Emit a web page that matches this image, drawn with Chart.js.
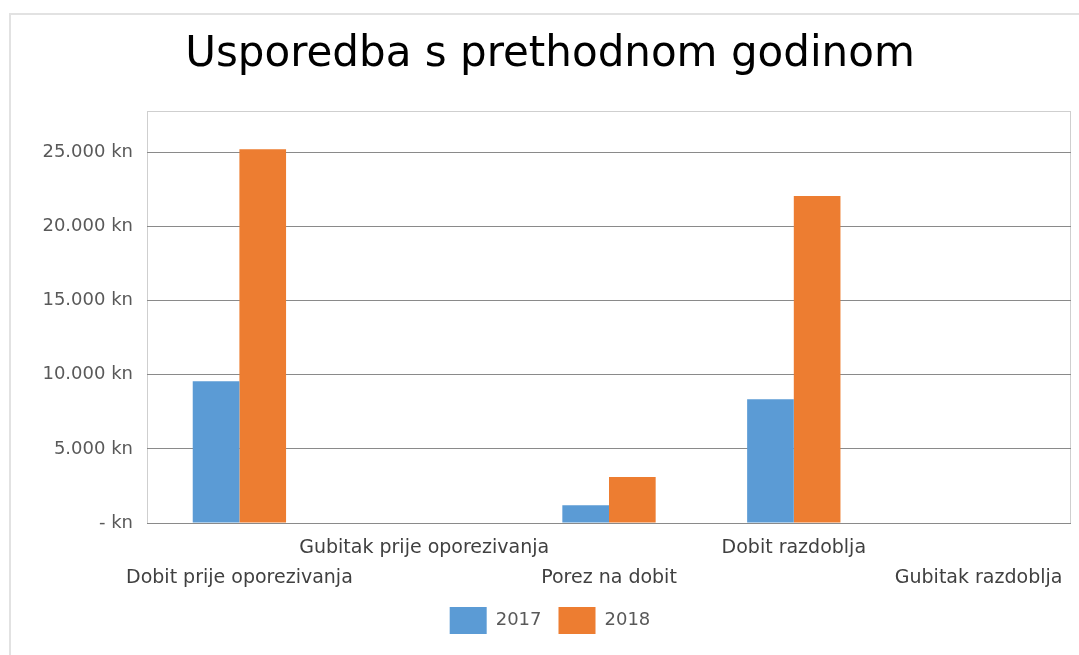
<!DOCTYPE html>
<html>
<head>
<meta charset="utf-8">
<script src="https://cdn.jsdelivr.net/npm/chart.js@4.4.0/dist/chart.umd.min.js"></script>
<style>
  html, body { margin: 0; padding: 0; background: #ffffff; overflow: hidden; }
  #frame { position: absolute; left: 9px; top: 13px; width: 1200px; height: 800px; border: 2px solid #e2e2e2; box-sizing: border-box; }
  #wrap { position: absolute; left: 0; top: 0; width: 1079px; height: 655px; }
</style>
</head>
<body>
<div id="frame"></div>
<div id="wrap"><canvas id="c" width="1079" height="655"></canvas></div>
<script>
const titleText = 'Usporedba s prethodnom godinom';
const categories = ['Dobit prije oporezivanja', 'Gubitak prije oporezivanja', 'Porez na dobit', 'Dobit razdoblja', 'Gubitak razdoblja'];
const seriesNames = ['2017', '2018'];
const values2017 = [9550, 0, 1200, 8350, 0];
const values2018 = [25200, 0, 3100, 22050, 0];
const yTickValues = [0, 5000, 10000, 15000, 20000, 25000];
const yAxisMax = 27750;

function formatKn(v) {
  if (v === 0) return '- kn';
  return String(v).replace(/\B(?=(\d{3})+(?!\d))/g, '.') + ' kn';
}

// staggered labels like the original: odd index on first row, even on second row
const xLabels = categories.map((c, i) => (i % 2 === 0 ? ['', c] : [c, '']));

const plotBorder = {
  id: 'plotBorder',
  beforeDraw(chart) {
    const a = chart.chartArea, ctx = chart.ctx;
    ctx.save();
    ctx.strokeStyle = '#cfcfcf';
    ctx.lineWidth = 1;
    ctx.strokeRect(Math.round(a.left) + 0.5, Math.round(a.top) + 0.5, Math.round(a.right - a.left) - 1, Math.round(a.bottom - a.top));
    ctx.restore();
  }
};

new Chart(document.getElementById('c'), {
  type: 'bar',
  data: {
    labels: xLabels,
    datasets: [
      { label: seriesNames[0], data: values2017, backgroundColor: '#5B9BD5', categoryPercentage: 0.505, barPercentage: 1 },
      { label: seriesNames[1], data: values2018, backgroundColor: '#ED7D31', categoryPercentage: 0.505, barPercentage: 1 }
    ]
  },
  options: {
    responsive: false,
    animation: false,
    layout: { padding: { left: 29, right: 8, top: 0, bottom: 11 } },
    plugins: {
      title: {
        display: true,
        text: titleText,
        color: '#000000',
        font: { family: 'DejaVu Sans', size: 42, weight: 'normal' },
        padding: { top: 30, bottom: 31 }
      },
      legend: {
        position: 'bottom',
        labels: {
          boxWidth: 37, boxHeight: 27, padding: 17,
          color: '#595959',
          font: { family: 'DejaVu Sans', size: 18 }
        }
      },
      tooltip: { enabled: false }
    },
    scales: {
      x: {
        grid: { display: false },
        border: { display: false },
        ticks: {
          color: '#404040',
          padding: 2,
          maxRotation: 0, minRotation: 0, autoSkip: false,
          font: { family: 'DejaVu Sans', size: 19, lineHeight: 30 / 19 }
        },
        afterFit(scale) { scale.height = 67; }
      },
      y: {
        min: 0,
        max: yAxisMax,
        afterBuildTicks(scale) { scale.ticks = yTickValues.map(v => ({ value: v })); },
        grid: { color: '#8a8a8a', lineWidth: 1, drawTicks: false },
        border: { display: false },
        ticks: {
          color: '#595959',
          padding: 14,
          font: { family: 'DejaVu Sans', size: 18 },
          callback: (v) => formatKn(v)
        },
        afterFit(scale) { scale.width = 118; }
      }
    }
  },
  plugins: [plotBorder]
});
</script>
</body>
</html>
